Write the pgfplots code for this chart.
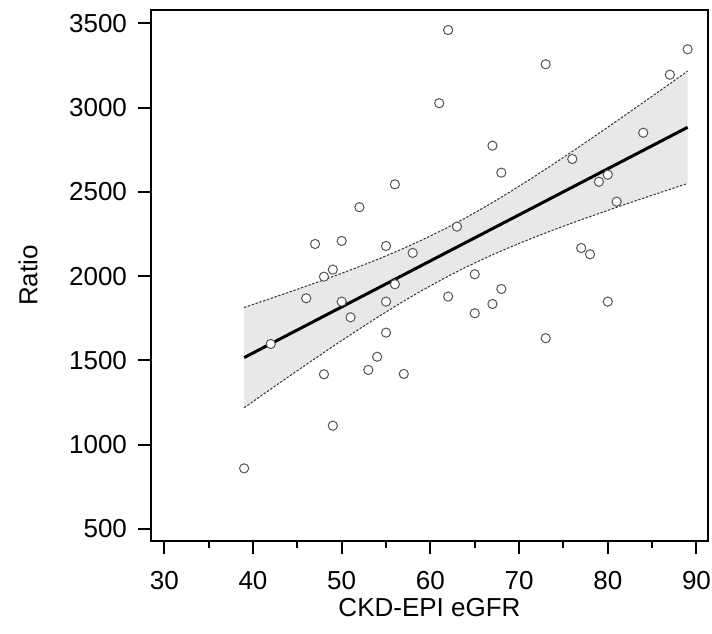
\documentclass[border=0pt]{standalone}
\usepackage{pgfplots}
\pgfplotsset{compat=1.18}
\usepgfplotslibrary{fillbetween}
\usepackage{fontspec}
\setmainfont{Liberation Sans}
\definecolor{bandfill}{HTML}{E8E8E8}
\definecolor{markgray}{HTML}{555555}
\begin{document}
\fontsize{13}{15.6}\selectfont
\begin{tikzpicture}
\begin{axis}[
  scale only axis,
  width=278.5pt, height=265.5pt,
  xmin=28.5, xmax=91.3,
  ymin=429, ymax=3579,
  xtick={30,40,50,60,70,80,90},
  minor xtick={35,45,55,65,75,85},
  ytick={500,1000,1500,2000,2500,3000,3500},
  xtick pos=bottom, ytick pos=left,
  tick align=outside,
  major tick length=6.5pt,
  minor tick length=3.5pt,
  every tick/.style={black, line width=1pt},
  axis line style={line width=1.35pt},
  /pgf/number format/assume math mode=true,
  /pgf/number format/1000 sep={},
  tick label style={font=\fontsize{13}{15.6}\selectfont},
  label style={font=\fontsize{13}{15.6}\selectfont},
  xticklabel style={yshift=-4pt},
  yticklabel style={xshift=-1pt},
  xlabel={CKD-EPI eGFR},
  ylabel={Ratio},
  every axis x label/.style={at={(axis description cs:0.5,0)}, anchor=center, yshift=-33.5pt},
  every axis y label/.style={at={(axis description cs:0,0.5)}, xshift=-61.5pt, rotate=90, anchor=center},
  clip=false,
]
\coordinate (bl) at (rel axis cs:0,0);
\coordinate (tr) at (rel axis cs:1,1);
\addplot[name path=up, draw=black!80, line width=0.5pt, dash pattern=on 1.2pt off 0.8pt] coordinates {
(39,1814.6) (41.5,1858.8) (44,1903.9) (46.5,1950.0) (49,1997.5) (51.5,2046.8) (54,2098.7) (56.5,2153.8) (59,2213.1) (61.5,2277.3) (64,2346.7) (66.5,2421.4) (69,2500.7) (71.5,2583.7) (74,2669.6) (76.5,2757.7) (79,2847.5) (81.5,2938.5) (84,3030.4) (86.5,3123.1) (89,3216.3)
};
\addplot[name path=lo, draw=black!80, line width=0.5pt, dash pattern=on 1.2pt off 0.8pt] coordinates {
(39,1219.4) (41.5,1311.8) (44,1403.3) (46.5,1493.8) (49,1582.9) (51.5,1670.2) (54,1754.9) (56.5,1836.4) (59,1913.7) (61.5,1986.1) (64,2053.3) (66.5,2115.2) (69,2172.5) (71.5,2226.1) (74,2276.8) (76.5,2325.3) (79,2372.1) (81.5,2417.7) (84,2462.4) (86.5,2506.3) (89,2549.7)
};
\addplot[bandfill] fill between[of=up and lo];
\addplot[black, line width=1.5pt] coordinates {(39,1517) (89,2883)};
\addplot[only marks, mark=*, mark size=2.3pt, mark options={draw=markgray, fill=white, line width=0.5pt}] coordinates {
(39,860) (42,1598) (46,1869) (47,2191) (48,1997) (48,1418) (49,2039) (49,1113)
(50,2209) (50,1849) (51,1756) (52,2409) (53,1444) (54,1522) (55,2179) (55,1849)
(55,1665) (56,2545) (56,1952) (57,1420) (58,2138) (61,3026) (62,3460) (62,1879)
(63,2294) (65,2011) (65,1780) (67,2774) (67,1835) (68,2614) (68,1924) (73,3257)
(73,1632) (76,2695) (77,2167) (78,2130) (79,2560) (80,2602) (80,1849) (81,2442)
(84,2851) (87,3195) (89,3346)
};
\end{axis}
\pgfresetboundingbox
\path ([xshift=-75.5pt,yshift=-46pt]bl) rectangle ([xshift=2pt,yshift=5pt]tr);
\end{tikzpicture}
\end{document}
